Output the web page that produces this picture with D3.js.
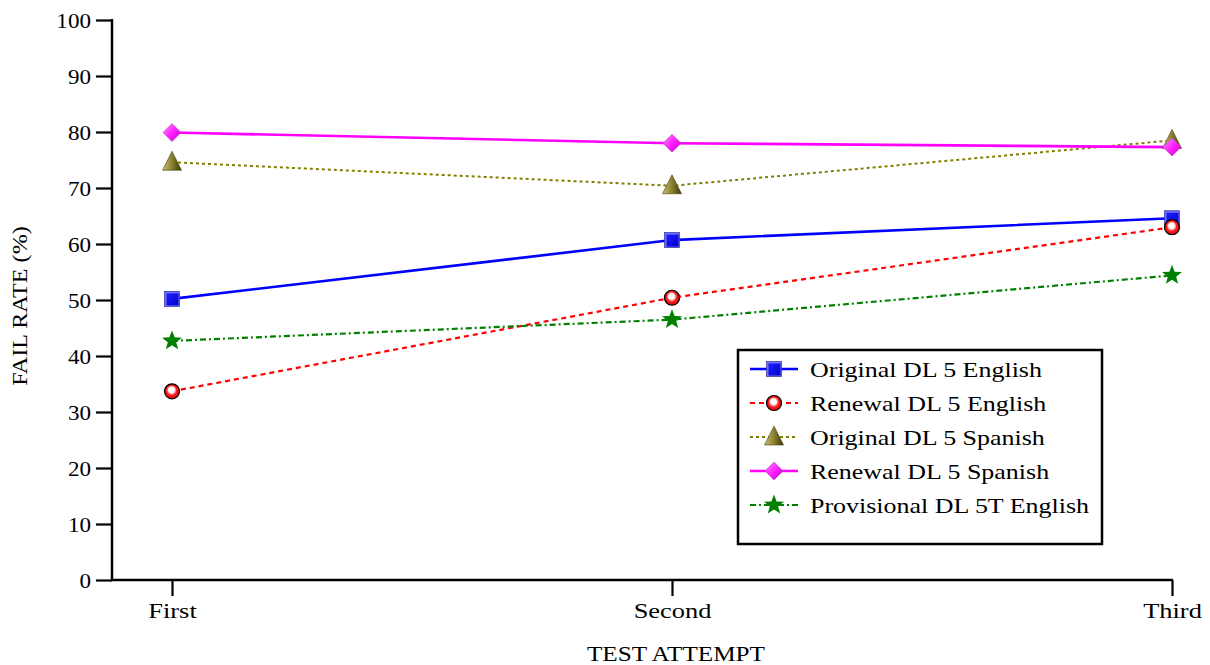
<!DOCTYPE html>
<html><head><meta charset="utf-8">
<script src="https://cdn.jsdelivr.net/npm/d3@7"></script>
<style>
html,body{margin:0;padding:0;background:#fff;}
text{font-family:"Palatino Linotype","Book Antiqua",Palatino,"Liberation Serif",serif;fill:#000;}
</style></head>
<body><svg id="c" width="1210" height="665"></svg>
<script>
const categories = ["First", "Second", "Third"];
const seriesNames = ["Original DL 5 English", "Renewal DL 5 English", "Original DL 5 Spanish", "Renewal DL 5 Spanish", "Provisional DL 5T English"];
const originalEnglish = [50.2, 60.7, 64.6];
const renewalEnglish = [33.7, 50.4, 63.0];
const originalSpanish = [74.6, 70.4, 78.5];
const renewalSpanish = [79.9, 78.0, 77.3];
const provisionalEnglish = [42.7, 46.5, 54.4];
const yTicks = [0, 10, 20, 30, 40, 50, 60, 70, 80, 90, 100];

const svg = d3.select("#c");
const defs = svg.append("defs");

function stretch(sel, f) {
  sel.each(function () {
    const w = this.getComputedTextLength();
    d3.select(this).attr("textLength", w * f).attr("lengthAdjust", "spacingAndGlyphs");
  });
}

function lin(id, stops, x2, y2) {
  const g = defs.append("linearGradient").attr("id", id).attr("x1", 0).attr("y1", 0).attr("x2", x2).attr("y2", y2);
  stops.forEach(s => g.append("stop").attr("offset", s[0]).attr("stop-color", s[1]));
}
lin("gBlue", [[0, "#2020ff"], [1, "#0000c8"]], 1, 1);
lin("gOlive", [[0, "#c8c070"], [0.5, "#8a8030"], [1, "#3a3408"]], 1, 0);
lin("gMag", [[0, "#ff90ff"], [0.5, "#ff20ff"], [1, "#c000c0"]], 1, 1);
const rg = defs.append("radialGradient").attr("id", "gRed").attr("cx", 0.5).attr("cy", 0.5).attr("r", 0.55).attr("fx", 0.45).attr("fy", 0.35);
rg.append("stop").attr("offset", 0).attr("stop-color", "#ffffff");
rg.append("stop").attr("offset", 0.35).attr("stop-color", "#ffffff");
rg.append("stop").attr("offset", 0.6).attr("stop-color", "#ff2020");
rg.append("stop").attr("offset", 1).attr("stop-color", "#d00000");

const x = d3.scalePoint().domain(categories).range([172, 1172]);
const y = d3.scaleLinear().domain([0, 100]).range([580, 20]);

// axes
const yAxis = d3.axisLeft(y).tickValues(yTicks).tickSize(16).tickPadding(5);
const gy = svg.append("g").attr("transform", "translate(112,0)").call(yAxis);
gy.select(".domain").remove();
gy.selectAll(".tick line").attr("stroke", "#000").attr("stroke-width", 2.2);
gy.selectAll("text").attr("font-size", null).style("font-size", "22px").attr("dy", "0.35em");
gy.attr("font-family", null);
stretch(gy.selectAll("text"), 1.05);
svg.append("line").attr("x1", 112).attr("x2", 112).attr("y1", y(100) - 1).attr("y2", y(0) + 1).attr("stroke", "#000").attr("stroke-width", 2.5);

const xAxis = d3.axisBottom(x).tickSize(16).tickPadding(6);
const gx = svg.append("g").attr("transform", "translate(0,580)").call(xAxis);
gx.select(".domain").remove();
gx.attr("font-family", null);
gx.selectAll(".tick line").attr("stroke", "#000").attr("stroke-width", 2.2);
gx.selectAll("text").style("font-size", "22px");
stretch(gx.selectAll("text"), 1.2);
svg.append("line").attr("x1", 111).attr("x2", x("Third") + 1).attr("y1", 580).attr("y2", 580).attr("stroke", "#000").attr("stroke-width", 2.5);

const xt = svg.append("text").attr("x", 676).attr("y", 661).attr("text-anchor", "middle").style("font-size", "21px").text("TEST ATTEMPT");
stretch(xt, 1.2);
const yt = svg.append("text").attr("transform", "translate(27,306) rotate(-90)").attr("text-anchor", "middle").style("font-size", "21px").text("FAIL RATE (%)");
stretch(yt, 1.15);

// markers
function marker(g, type, cx, cy) {
  if (type === "square") {
    g.append("rect").attr("x", cx - 7.5).attr("y", cy - 7.5).attr("width", 15).attr("height", 15).attr("fill", "#7070ff");
    g.append("rect").attr("x", cx - 5.5).attr("y", cy - 5.5).attr("width", 12).attr("height", 12).attr("fill", "url(#gBlue)");
    g.append("rect").attr("x", cx - 7.5).attr("y", cy - 7.5).attr("width", 15).attr("height", 15).attr("fill", "none").attr("stroke", "#3030a0").attr("stroke-width", 0.7);
  } else if (type === "circle") {
    g.append("circle").attr("cx", cx).attr("cy", cy).attr("r", 7.5).attr("fill", "url(#gRed)").attr("stroke", "#000").attr("stroke-width", 1.2);
  } else if (type === "triangle") {
    g.append("path").attr("d", `M${cx},${cy - 11}L${cx + 9.5},${cy + 8}L${cx - 9.5},${cy + 8}Z`).attr("fill", "url(#gOlive)").attr("stroke", "#4a4410").attr("stroke-width", 0.6);
  } else if (type === "diamond") {
    g.append("path").attr("d", `M${cx},${cy - 9}L${cx + 9},${cy}L${cx},${cy + 9}L${cx - 9},${cy}Z`).attr("fill", "url(#gMag)").attr("stroke", "#c040c0").attr("stroke-width", 0.6);
  } else if (type === "star") {
    const pts = d3.range(10).map(i => {
      const r = i % 2 === 0 ? 10.5 : 4.4;
      const a = -Math.PI / 2 + i * Math.PI / 5;
      return [cx + r * Math.cos(a), cy + r * Math.sin(a)];
    });
    g.append("path").attr("d", "M" + pts.map(p => p.join(",")).join("L") + "Z").attr("fill", "#008000");
  }
}

const series = [
  { name: seriesNames[0], values: originalEnglish, color: "#0000ff", width: 2.6, dash: null, marker: "square" },
  { name: seriesNames[1], values: renewalEnglish, color: "#ff0000", width: 2.2, dash: "5,4", marker: "circle" },
  { name: seriesNames[2], values: originalSpanish, color: "#808000", width: 2, dash: "3,3", marker: "triangle" },
  { name: seriesNames[3], values: renewalSpanish, color: "#ff00ff", width: 2.6, dash: null, marker: "diamond" },
  { name: seriesNames[4], values: provisionalEnglish, color: "#008000", width: 2.2, dash: "6,3,2,3", marker: "star" }
];

const line = d3.line().x((d, i) => x(categories[i])).y(d => y(d));
series.forEach(s => {
  svg.append("path").datum(s.values).attr("d", line).attr("fill", "none")
    .attr("stroke", s.color).attr("stroke-width", s.width).attr("stroke-dasharray", s.dash);
});
series.forEach(s => {
  const g = svg.append("g");
  s.values.forEach((v, i) => marker(g, s.marker, x(categories[i]), y(v)));
});

// legend
const lg = svg.append("g");
lg.append("rect").attr("x", 738).attr("y", 350).attr("width", 364).attr("height", 194).attr("fill", "#fff").attr("stroke", "#000").attr("stroke-width", 2.5);
series.forEach((s, i) => {
  const cy = 369 + i * 34;
  lg.append("line").attr("x1", 750).attr("x2", 798).attr("y1", cy).attr("y2", cy)
    .attr("stroke", s.color).attr("stroke-width", s.width).attr("stroke-dasharray", s.dash);
  marker(lg, s.marker, 774, cy);
  const t = lg.append("text").attr("x", 810).attr("y", cy).attr("dy", "0.35em").style("font-size", "22px").text(s.name);
  stretch(t, 1.18);
});
</script></body></html>
